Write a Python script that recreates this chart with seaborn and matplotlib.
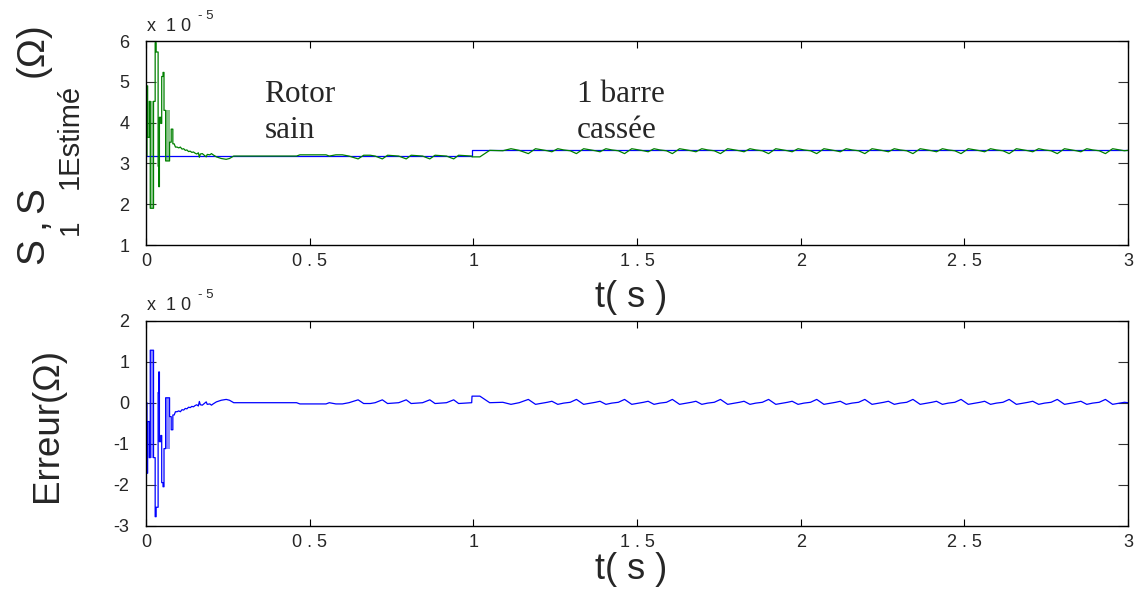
import numpy as np
import matplotlib
matplotlib.use("Agg")
import matplotlib.pyplot as plt
import seaborn as sns

# ---------------------------------------------------------------
# Données (résistance statorique, unités de 1e-5 Ohm, temps en s)
# ---------------------------------------------------------------
s1_sain = 3.18          # S1 réel, rotor sain
s1_casse = 3.32         # S1 réel, 1 barre cassée
t_defaut = 0.9955       # instant d'apparition du défaut

# Erreur S1 - S1estimé : régime transitoire
t_transitoire = [0.000, 0.003, 0.003, 0.005, 0.005, 0.010, 0.010, 0.013, 0.013, 0.023,
                 0.023, 0.028, 0.028, 0.031, 0.031, 0.037, 0.037, 0.039, 0.039, 0.041,
                 0.041, 0.045, 0.045, 0.048, 0.048, 0.052, 0.052, 0.055, 0.055, 0.060,
                 0.060, 0.072, 0.072, 0.077, 0.077, 0.082, 0.082, 0.086, 0.090, 0.095,
                 0.100, 0.105, 0.110, 0.115, 0.120, 0.125, 0.130, 0.135, 0.140, 0.145,
                 0.150, 0.155, 0.160, 0.163, 0.166, 0.172, 0.178, 0.184, 0.187, 0.195,
                 0.200, 0.205, 0.215, 0.230, 0.245, 0.255, 0.268]
err_transitoire = [0.00, 0.00, -1.72, -1.72, -0.46, -0.46, -1.34, -1.34, 1.28, 1.28,
                   -1.34, -1.34, -2.78, -2.78, -2.55, -2.55, 0.25, 0.25, 0.75, 0.75,
                   -0.95, -0.95, -0.80, -0.80, -1.95, -1.95, -2.05, -2.05, -1.12, -1.12,
                   0.12, 0.12, -0.34, -0.34, -0.66, -0.66, -0.30, -0.30, -0.22, -0.22,
                   -0.20, -0.22, -0.17, -0.18, -0.14, -0.15, -0.11, -0.12, -0.09, -0.10,
                   -0.07, -0.05, -0.08, 0.03, -0.05, -0.06, -0.02, 0.02, -0.04, -0.03,
                   -0.06, -0.03, 0.02, 0.06, 0.08, 0.06, 0.00]

# Oscillations rapides (enveloppes) du transitoire
bande_debut = [0.013, 0.060]
bande_fin = [0.023, 0.072]
bande_haut = [1.28, 0.12]
bande_bas = [-1.34, -1.12]

# Erreur : rotor sain, régime établi
t_sain = [0.460, 0.470, 0.550, 0.560, 0.580, 0.600, 0.620, 0.648, 0.665, 0.685,
          0.700, 0.722, 0.738, 0.755, 0.772, 0.795, 0.810, 0.830, 0.845, 0.867,
          0.883, 0.900, 0.918, 0.940, 0.955, 0.975, 0.995]
err_sain = [0.00, -0.03, -0.03, 0.00, -0.03, -0.03, 0.00, 0.07, -0.02, -0.02,
            0.00, 0.07, -0.02, -0.01, 0.00, 0.07, -0.02, -0.01, 0.00, 0.07,
            -0.02, -0.01, 0.00, 0.07, -0.02, -0.01, 0.00]

# Erreur : 1 barre cassée
t_casse = [0.996, 1.020, 1.050, 1.090, 1.115, 1.140,
           1.168, 1.190, 1.208, 1.226, 1.240, 1.258, 1.276, 1.296,
           1.315, 1.337, 1.355, 1.373, 1.387, 1.405, 1.423, 1.443,
           1.462, 1.484, 1.502, 1.520, 1.534, 1.552, 1.570, 1.590,
           1.608, 1.630, 1.648, 1.666, 1.680, 1.698, 1.716, 1.736,
           1.755, 1.777, 1.795, 1.813, 1.827, 1.845, 1.863, 1.883,
           1.902, 1.924, 1.942, 1.960, 1.974, 1.992, 2.010, 2.030,
           2.049, 2.071, 2.089, 2.107, 2.121, 2.139, 2.157, 2.177,
           2.196, 2.218, 2.236, 2.254, 2.268, 2.286, 2.304, 2.324,
           2.343, 2.365, 2.383, 2.401, 2.415, 2.433, 2.451, 2.471,
           2.490, 2.512, 2.530, 2.548, 2.562, 2.580, 2.598, 2.618,
           2.637, 2.659, 2.677, 2.695, 2.709, 2.727, 2.745, 2.765,
           2.784, 2.806, 2.824, 2.842, 2.856, 2.874, 2.892, 2.912,
           2.931, 2.953, 2.971, 2.989, 3.000]
err_casse = [0.16, 0.16, 0.00, 0.01, -0.04, 0.00,
             0.08, -0.04, -0.015, 0.01, 0.035, -0.04, -0.01, 0.01,
             0.08, -0.04, -0.015, 0.01, 0.035, -0.04, -0.01, 0.01,
             0.08, -0.04, -0.015, 0.01, 0.035, -0.04, -0.01, 0.01,
             0.08, -0.04, -0.015, 0.01, 0.035, -0.04, -0.01, 0.01,
             0.08, -0.04, -0.015, 0.01, 0.035, -0.04, -0.01, 0.01,
             0.08, -0.04, -0.015, 0.01, 0.035, -0.04, -0.01, 0.01,
             0.08, -0.04, -0.015, 0.01, 0.035, -0.04, -0.01, 0.01,
             0.08, -0.04, -0.015, 0.01, 0.035, -0.04, -0.01, 0.01,
             0.08, -0.04, -0.015, 0.01, 0.035, -0.04, -0.01, 0.01,
             0.08, -0.04, -0.015, 0.01, 0.035, -0.04, -0.01, 0.01,
             0.08, -0.04, -0.015, 0.01, 0.035, -0.04, -0.01, 0.01,
             0.08, -0.04, -0.015, 0.01, 0.035, -0.04, -0.01, 0.01,
             0.08, -0.04, -0.015, 0.01, 0.00]

# Graduations
x_ticks = [0, 0.5, 1, 1.5, 2, 2.5, 3]
x_tick_labels = ["0", "0 . 5", "1", "1 . 5", "2", "2 . 5", "3"]
y1_ticks = [1, 2, 3, 4, 5, 6]
y1_tick_labels = ["1", "2", "3", "4", "5", "6"]
y2_ticks = [-3, -2, -1, 0, 1, 2]
y2_tick_labels = ["-3", "-2", "-1", "0", "1", "2"]

# ---------------------------------------------------------------
# Séries complètes
# ---------------------------------------------------------------
t_err = np.array(t_transitoire + t_sain + t_casse)
err = np.array(err_transitoire + err_sain + err_casse)
s1_reel_pts = np.where(t_err < t_defaut, s1_sain, s1_casse)
s1_estime = s1_reel_pts - err

t_s1 = [0.0, t_defaut, t_defaut, 3.0]
s1 = [s1_sain, s1_sain, s1_casse, s1_casse]

# ---------------------------------------------------------------
# Mise en forme
# ---------------------------------------------------------------
sns.set_style("ticks", {"xtick.direction": "in", "ytick.direction": "in"})
plt.rcParams["font.family"] = ["Liberation Sans", "DejaVu Sans"]

W, H = 1136, 597
fig = plt.figure(figsize=(W / 100, H / 100), dpi=100)
fig.patch.set_facecolor("white")


def px(x, y):
    return x / W, 1 - y / H


ax1 = fig.add_axes([146 / W, 1 - 245 / H, 982 / W, 204 / H])
ax2 = fig.add_axes([146 / W, 1 - 525.7 / H, 982 / W, 205 / H])

BLEU = "#0000ff"
VERT = "#008000"

# S1 réel et S1 estimé
sns.lineplot(x=t_s1, y=s1, ax=ax1, estimator=None, sort=False, color=BLEU, lw=0.9)
sns.lineplot(x=t_err, y=s1_estime, ax=ax1, estimator=None, sort=False, color=VERT, lw=0.9)
for a, b, hi, lo in zip(bande_debut, bande_fin, bande_haut, bande_bas):
    ax1.fill_between([a, b], [s1_sain - hi] * 2, [s1_sain - lo] * 2,
                     color=VERT, alpha=0.45, lw=0)

# Erreur d'estimation
sns.lineplot(x=t_err, y=err, ax=ax2, estimator=None, sort=False, color=BLEU, lw=0.9)
for a, b, hi, lo in zip(bande_debut, bande_fin, bande_haut, bande_bas):
    ax2.fill_between([a, b], [lo] * 2, [hi] * 2, color=BLEU, alpha=0.45, lw=0)

for ax, yt, ytl, ylim in ((ax1, y1_ticks, y1_tick_labels, (1, 6)),
                          (ax2, y2_ticks, y2_tick_labels, (-3, 2))):
    ax.set_xlim(0, 3)
    ax.set_ylim(*ylim)
    ax.set_xticks(x_ticks)
    ax.set_xticklabels(x_tick_labels)
    ax.set_yticks(yt)
    ax.set_yticklabels(ytl)
    ax.set_xlabel("")
    ax.set_ylabel("")
    ax.tick_params(axis="x", length=5, width=0.8, pad=6, labelsize=13,
                   top=True, bottom=True, color="black")
    ax.tick_params(axis="y", length=7, width=0.8, pad=12, labelsize=13,
                   left=True, right=True, color="#333333")
    for sp in ax.spines.values():
        sp.set_visible(True)
        sp.set_linewidth(1.0)
        sp.set_color("black")
    ax.set_facecolor("white")

# Facteur d'échelle
for y0 in (31, 310.5):
    fig.text(*px(147, y0), "x  1 0", fontsize=13, ha="left", va="baseline")
    fig.text(*px(198, y0 - 12), "- 5", fontsize=9.5, ha="left", va="baseline")

# Axe des temps
for y0 in (307, 579):
    fig.text(*px(631, y0), "t( s )", fontsize=26, ha="center", va="baseline")

# Étiquette verticale du graphe du haut
rot = dict(rotation=90, rotation_mode="anchor", va="baseline", ha="left")
fig.text(*px(43, 264), "S", fontsize=28, **rot)
fig.text(*px(78, 235), "1", fontsize=20, **rot)
fig.text(*px(43, 228), ",", fontsize=28, **rot)
fig.text(*px(43, 213), "S", fontsize=28, **rot)
fig.text(*px(78, 189), "1Estimé", fontsize=21, **rot)
fig.text(*px(43, 77), "(Ω)", fontsize=28, **rot)

# Étiquette verticale du graphe du bas
fig.text(*px(57, 424.5), "Erreur(Ω)", fontsize=26.5, rotation=90,
         rotation_mode="anchor", va="baseline", ha="center")

# Annotations des régimes
serif = ["Liberation Serif", "DejaVu Serif"]
ax1.text(0.362, 4.50, "Rotor", family=serif, fontsize=22.5, ha="left", va="baseline")
ax1.text(0.362, 3.62, "sain", family=serif, fontsize=22.5, ha="left", va="baseline")
ax1.text(1.318, 4.50, "1 barre", family=serif, fontsize=22.5, ha="left", va="baseline")
ax1.text(1.315, 3.62, "cassée", family=serif, fontsize=22.5, ha="left", va="baseline")

fig.savefig("out.png", dpi=100, facecolor="white")
